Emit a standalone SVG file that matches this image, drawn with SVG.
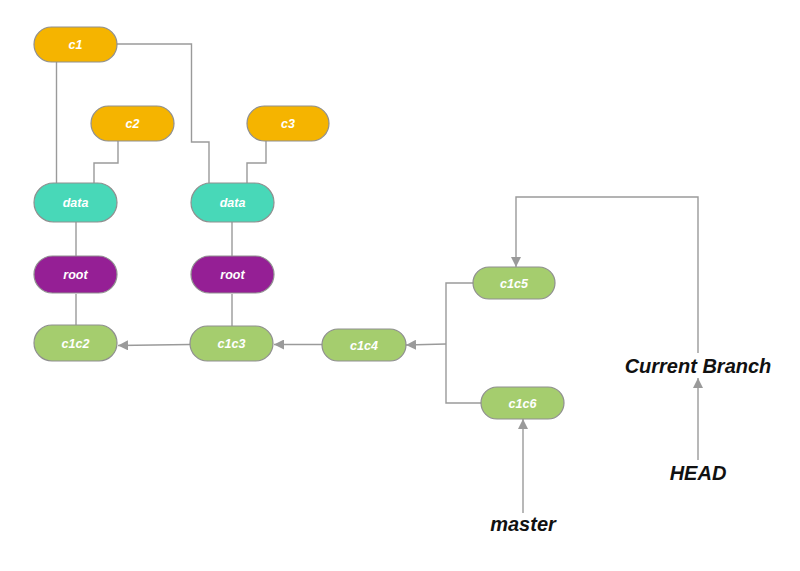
<svg xmlns="http://www.w3.org/2000/svg" width="800" height="571" viewBox="0 0 800 571">
<style>
.n{stroke:#8f8f8f;stroke-width:1.2}
.o{fill:#F5B400}.t{fill:#48D8B8}.p{fill:#951F95}.g{fill:#A5CD6E}
.l{font-family:"Liberation Sans",Arial,sans-serif;font-weight:bold;font-style:italic;font-size:12.5px;fill:#fff;text-anchor:middle}
.b{font-family:"Liberation Sans",Arial,sans-serif;font-weight:bold;font-style:italic;font-size:20px;fill:#111;text-anchor:middle}
.c{fill:none;stroke:#9a9a9a;stroke-width:1.4}
</style>
<defs>
<marker id="ar" viewBox="0 0 10 10" refX="10" refY="5" markerWidth="10" markerHeight="10" markerUnits="userSpaceOnUse" orient="auto">
<path d="M0,0 L10,5 L0,10 z" fill="#9a9a9a"/>
</marker>
</defs>
<rect width="800" height="571" fill="#fff"/>
<g id="connectors">
<path class="c" d="M56.5,62 V183"/>
<path class="c" d="M117,44 H191.5 V142 H209 V183"/>
<path class="c" d="M118,141 V163 H94 V183"/>
<path class="c" d="M266,141 V163 H247 V183"/>
<path class="c" d="M76,222 V256"/>
<path class="c" d="M76,294 V325"/>
<path class="c" d="M232,222 V256"/>
<path class="c" d="M232,294 V326"/>
<path class="c" d="M190,344.5 L118,345.5" marker-end="url(#ar)"/>
<path class="c" d="M322,344.5 H274" marker-end="url(#ar)"/>
<path class="c" d="M473,283 H446 V403 H481"/>
<path class="c" d="M446,344 L406,345" marker-end="url(#ar)"/>
<path class="c" d="M698,353 V197 H516 V267" marker-end="url(#ar)"/>
<path class="c" d="M698,460 V378" marker-end="url(#ar)"/>
<path class="c" d="M523,513 V419" marker-end="url(#ar)"/>
</g>
<g id="c1"><rect class="n o" x="34" y="27" width="83" height="35" rx="17.5"/><text class="l" x="75.5" y="49">c1</text></g>
<g id="c2"><rect class="n o" x="91" y="106" width="83" height="35" rx="17.5"/><text class="l" x="132.5" y="128">c2</text></g>
<g id="c3"><rect class="n o" x="247" y="106" width="82" height="35" rx="17.5"/><text class="l" x="288" y="128">c3</text></g>
<g id="data1"><rect class="n t" x="34" y="183" width="83" height="39" rx="19.5"/><text class="l" x="75.5" y="207">data</text></g>
<g id="data2"><rect class="n t" x="191" y="183" width="83" height="39" rx="19.5"/><text class="l" x="232.5" y="207">data</text></g>
<g id="root1"><rect class="n p" x="34" y="256" width="83" height="37" rx="18.5"/><text class="l" x="75.5" y="279">root</text></g>
<g id="root2"><rect class="n p" x="191" y="256" width="83" height="37" rx="18.5"/><text class="l" x="232.5" y="279">root</text></g>
<g id="c1c2"><rect class="n g" x="34" y="325" width="83" height="36" rx="18"/><text class="l" x="75.5" y="348">c1c2</text></g>
<g id="c1c3"><rect class="n g" x="190" y="326" width="83" height="35" rx="17.5"/><text class="l" x="231.5" y="348">c1c3</text></g>
<g id="c1c4"><rect class="n g" x="322" y="329" width="84" height="32" rx="16"/><text class="l" x="364" y="350">c1c4</text></g>
<g id="c1c5"><rect class="n g" x="473" y="267" width="82" height="32" rx="16"/><text class="l" x="514" y="287.5">c1c5</text></g>
<g id="c1c6"><rect class="n g" x="481" y="387" width="83" height="32" rx="16"/><text class="l" x="522.5" y="407.5">c1c6</text></g>
<g id="currentbranch"><text class="b" x="698" y="373">Current Branch</text></g>
<g id="head"><text class="b" x="698" y="480">HEAD</text></g>
<g id="master"><text class="b" x="523" y="531">master</text></g>
</svg>
